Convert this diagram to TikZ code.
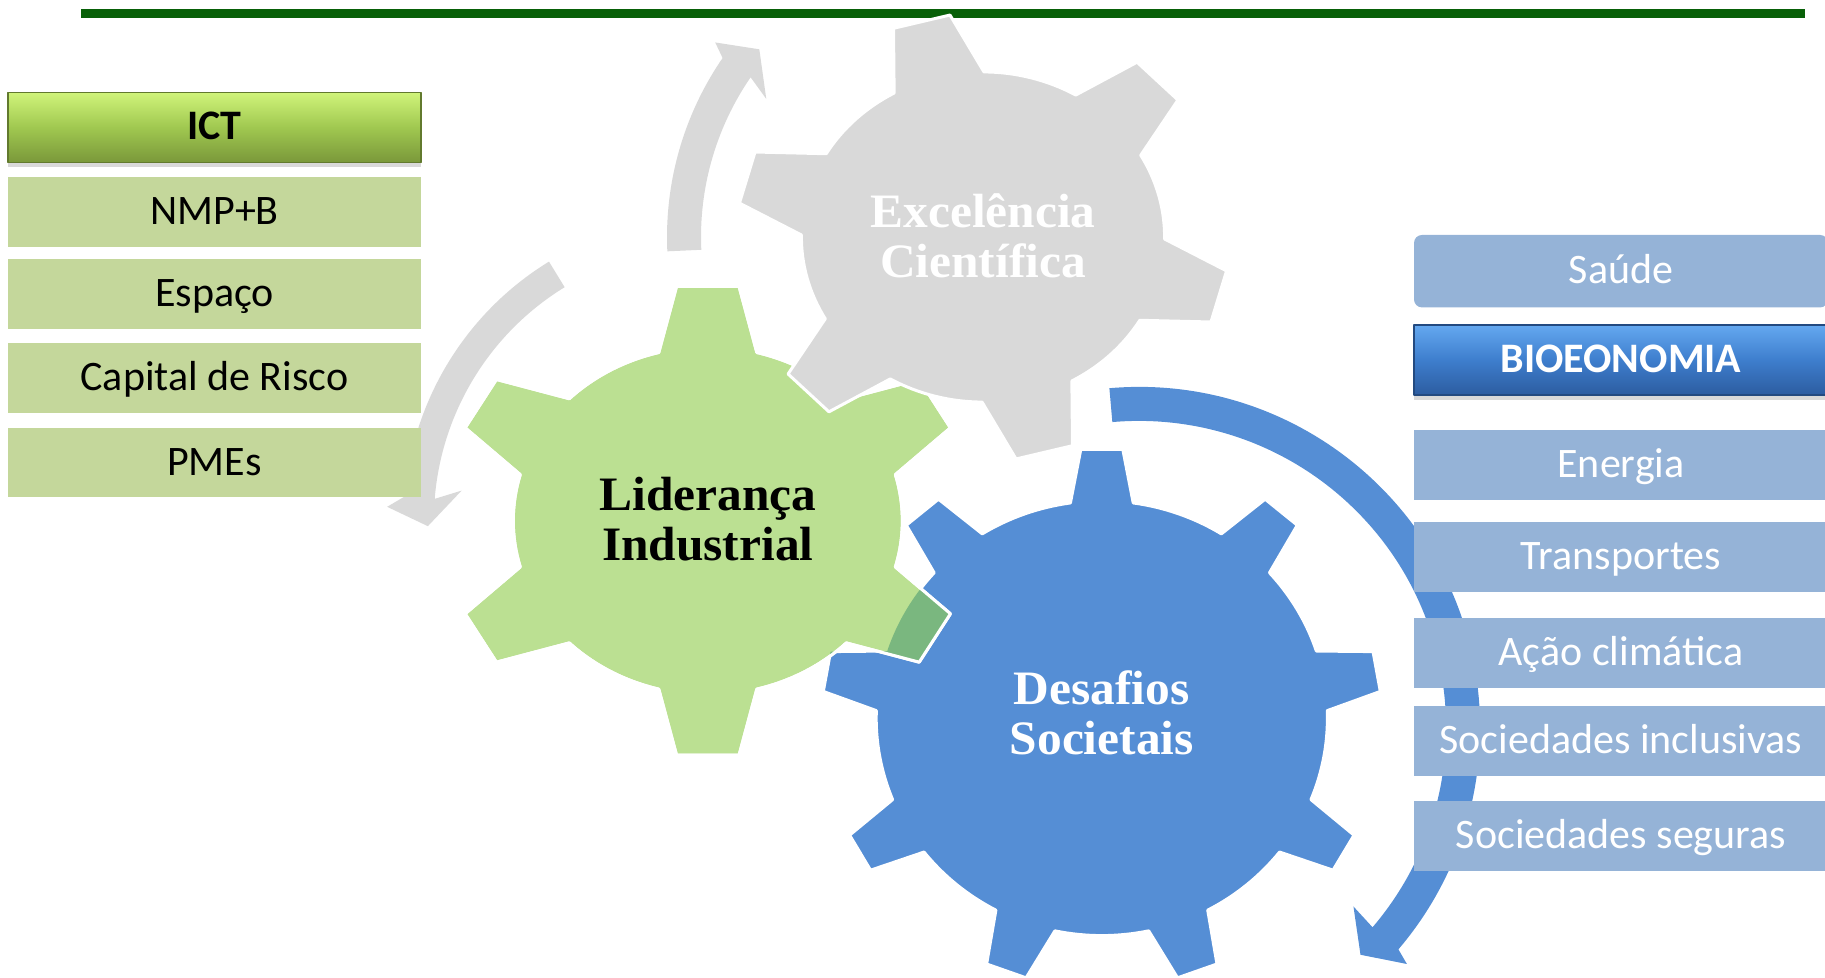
\documentclass[tikz,border=0pt]{standalone}
\usepackage{fontspec}
\usepackage{xcolor}
\usepackage{tikz}
\usetikzlibrary{positioning,shadows,calc}
\newfontfamily\boxfont{Carlito}
\newfontfamily\gearfont[FakeStretch=1.03]{Liberation Serif}
\definecolor{rulegreen}{RGB}{8,96,8}
\definecolor{boxgreen}{RGB}{196,215,155}
\definecolor{boxblue}{RGB}{149,179,215}
\definecolor{gearblue}{RGB}{85,142,213}
\definecolor{geargreen}{RGB}{187,224,146}
\definecolor{geargray}{RGB}{217,217,217}
\definecolor{overlapgreen}{RGB}{122,183,127}
\definecolor{ictTop}{RGB}{208,244,122}
\definecolor{ictMid}{RGB}{160,200,80}
\definecolor{ictBot}{RGB}{122,152,58}
\definecolor{bioTop}{RGB}{100,168,240}
\definecolor{bioMid}{RGB}{62,126,205}
\definecolor{bioBot}{RGB}{44,92,160}
\newcommand{\gearpath}[9]{({#1+#3*#7*cos(#6-#9)},{#2+#4*#7*sin(#6-#9)}) \foreach \tooth [evaluate=\tooth as \ang using #6+(\tooth-1)*360/#5] in {1,...,#5} { -- ({#1+#3*cos(\ang-#8)},{#2+#4*sin(\ang-#8)}) -- ({#1+#3*cos(\ang+#8)},{#2+#4*sin(\ang+#8)}) -- ({#1+#3*#7*cos(\ang+#9)},{#2+#4*#7*sin(\ang+#9)}) arc[start angle=\ang+#9, end angle=\ang+360/#5-#9, x radius=#3*#7, y radius=#4*#7] } -- cycle}
\newcommand{\bluegear}{\gearpath{1101.8}{-718.2}{279.9}{269.7}{9}{90}{0.806}{4.3}{8}}
\newcommand{\greengear}{\gearpath{707.8}{-520.8}{264}{236}{6}{90}{0.737}{6.8}{14.6}}
\newcommand{\graygear}{\gearpath{983}{-237}{246.4}{224}{6}{104.5}{0.737}{6.8}{14.8}}

\begin{document}
\begin{tikzpicture}[x=1pt, y=1pt, line join=round,
  leftbox/.style = {fill=boxgreen, minimum width=413pt, minimum height=69.5pt, inner sep=0pt, text height=33pt, text depth=8pt, font=\boxfont\fontsize{42}{50}\selectfont},
  rightbox/.style = {fill=boxblue, text=white, minimum width=414pt, minimum height=70pt, inner sep=0pt, text height=33pt, text depth=8pt, font=\boxfont\fontsize{42}{50}\selectfont},
  ictbox/.style = {top color=ictTop, bottom color=ictBot, middle color=ictMid, draw=ictBot!80!black, line width=1.5pt, drop shadow={shadow xshift=0pt, shadow yshift=-5pt, opacity=0.3}},
  biobox/.style = {top color=bioTop, bottom color=bioBot, middle color=bioMid, draw=bioBot!80!black, line width=1.5pt, drop shadow={shadow xshift=0pt, shadow yshift=-5pt, opacity=0.3}},
  gearlabel/.style = {align=center, inner sep=0pt, font=\gearfont\bfseries\fontsize{48}{50.5}\selectfont},
  gearedge/.style = {draw=white, line width=3pt}]
\useasboundingbox (0,0) rectangle (1825,-977);
\clip (0,0) rectangle (1825,-977);
\coordinate (rulel) at (81,-13.5);
\coordinate (ruler) at (1805,-13.5);
\coordinate (gc) at (983,-237);
\coordinate (lc) at (707.8,-520.8);
\coordinate (ac) at (1139.1,-727.9);
\draw[rulegreen, line width=8.5pt] (rulel) -- (ruler);
\fill[geargray] ([shift={(182.6:316)}]gc) arc[start angle=182.6, end angle=145.5, radius=316] -- ([shift={(144:331)}]gc) -- ([shift={(140:292)}]gc) -- ([shift={(147.5:257)}]gc) -- ([shift={(145.5:282)}]gc) arc[start angle=145.5, end angle=182.6, radius=282] -- cycle;
\fill[geargray] ([shift={(121.5:304)}]lc) arc[start angle=121.5, end angle=175.4, radius=304] -- ([shift={(177.5:321)}]lc) -- ([shift={(181.1:280)}]lc) -- ([shift={(173:248)}]lc) -- ([shift={(175.4:274)}]lc) arc[start angle=175.4, end angle=121.5, radius=274] -- cycle;
\fill[gearblue] ([shift={(95:341)}]ac) arc[start angle=95, end angle=-40.5, radius=341] -- ([shift={(-41.4:357)}]ac) -- ([shift={(-45.7:317)}]ac) -- ([shift={(-39.8:279)}]ac) -- ([shift={(-40.5:307)}]ac) arc[start angle=-40.5, end angle=95, radius=307] -- cycle;
\path[fill=gearblue, gearedge] \bluegear;
\path[fill=geargreen, gearedge] \greengear;
\begin{scope}
\clip \bluegear;
\fill[overlapgreen] \greengear;
\end{scope}
\path[gearedge] \greengear;
\path[fill=geargray, gearedge] \graygear;
\node[gearlabel, text=white] (exc) at (983,-236) {Excelência\\Científica};
\node[gearlabel] (lid) at (707.8,-519) {Liderança\\Industrial};
\node[gearlabel, text=white] (des) at (1101.8,-712.7) {Desafios\\Societais};
\node[leftbox, ictbox, minimum height=70pt] (ict) at (214.5,-127.3) {\bfseries ICT};
\node[leftbox] (nmp) [below=14pt of ict] {NMP+B};
\node[leftbox] (esp) [below=12pt of nmp] {Espaço};
\node[leftbox] (cap) [below=14pt of esp] {Capital de Risco};
\node[leftbox] (pme) [below=15pt of cap] {PMEs};
\node[rightbox, rounded corners=8pt, minimum height=72.5pt] (sau) at (1621,-271.2) {Saúde};
\node[rightbox, biobox] (bio) at (1621,-360) {\bfseries BIOEONOMIA};
\node[rightbox] (ene) at (1621,-465.2) {Energia};
\node[rightbox] (tra) at (1621,-556.8) {Transportes};
\node[rightbox] (aca) at (1621,-652.5) {Ação climática};
\node[rightbox] (inc) at (1621,-740.8) {Sociedades inclusivas};
\node[rightbox] (seg) at (1621,-836) {Sociedades seguras};
\end{tikzpicture}
\end{document}
